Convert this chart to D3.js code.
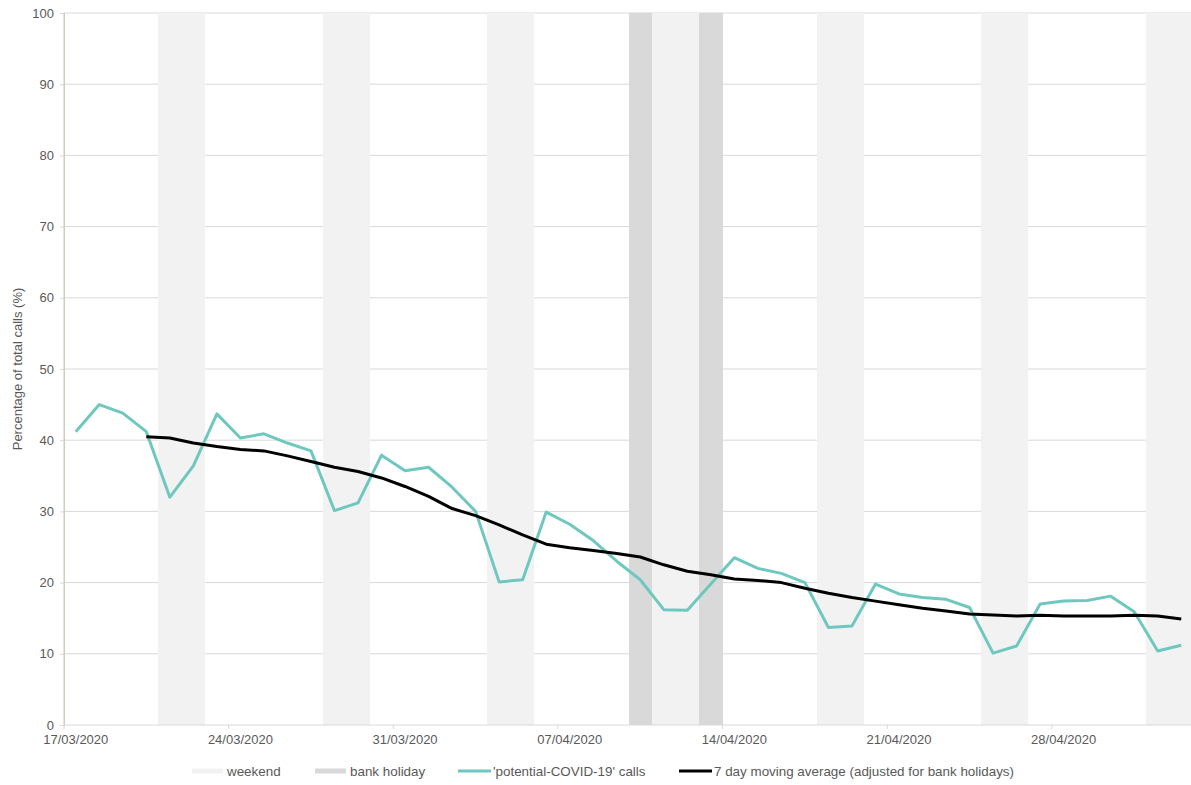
<!DOCTYPE html>
<html>
<head>
  <title>Potential COVID-19 calls</title>
  <style>
    body { margin: 0; background: #fff; }
    text { font-family: "Liberation Sans", Arial, sans-serif; fill: #595959; }
  </style>
</head>
<body>
  <svg id="chart"></svg>

  <script src="https://d3js.org/d3.v7.min.js"></script>
  <script>
    // days 17/03/2020 .. 03/05/2020
    var startDate = new Date(2020, 2, 17);
    var dayCount = 48;

    // 'potential-COVID-19' calls, % of total, one per day
    var covidCalls = [41.2, 45.0, 43.8, 41.2, 32.0, 36.4, 43.7, 40.3, 40.9, 39.6,
      38.5, 30.1, 31.2, 37.9, 35.7, 36.2, 33.4, 30.0, 20.1, 20.4,
      29.9, 28.2, 25.9, 23.0, 20.4, 16.2, 16.1, 19.8, 23.5, 22.0,
      21.3, 20.0, 13.7, 13.9, 19.8, 18.4, 17.9, 17.65, 16.5, 10.1,
      11.1, 17.0, 17.4, 17.5, 18.1, 15.9, 10.4, 11.2];

    // 7 day moving average, starts on day 3
    var maStart = 3;
    var movingAvg = [40.5, 40.3, 39.6, 39.1, 38.7, 38.5, 37.8, 37.0, 36.2, 35.6,
      34.7, 33.5, 32.1, 30.4, 29.4, 28.1, 26.7, 25.4, 24.9, 24.5,
      24.1, 23.6, 22.5, 21.6, 21.1, 20.5, 20.3, 20.0, 19.2, 18.5,
      17.9, 17.4, 16.9, 16.4, 16.0, 15.6, 15.45, 15.3, 15.4, 15.3,
      15.3, 15.3, 15.4, 15.3, 14.9];

    var weekendDays = [4, 5, 11, 12, 18, 19, 25, 26, 32, 33, 39, 40, 46, 47];
    var bankHolidays = [24, 27];
    var yTicks = [0, 10, 20, 30, 40, 50, 60, 70, 80, 90, 100];
    var xTickDays = [0, 7, 14, 21, 28, 35, 42];

    var width = 1191, height = 785;
    var margin = { top: 13, right: -2, bottom: 60, left: 64 };

    var svg = d3.select("#chart").attr("width", width).attr("height", height);

    var days = d3.range(dayCount);
    var x = d3.scaleBand().domain(days).range([margin.left, width - margin.right]);
    var y = d3.scaleLinear().domain([0, 100]).range([height - margin.bottom, margin.top]);

    function dateLabel(i) {
      var d = new Date(startDate);
      d.setDate(d.getDate() + i);
      return d3.timeFormat("%d/%m/%Y")(d);
    }

    // gridlines
    svg.append("g")
      .selectAll("line")
      .data(yTicks.slice(1))
      .enter().append("line")
      .attr("x1", margin.left).attr("x2", width)
      .attr("y1", function(d) { return y(d); })
      .attr("y2", function(d) { return y(d); })
      .attr("stroke", "#d9d9d9").attr("stroke-width", 1);

    // weekend and bank holiday shading
    svg.append("g")
      .attr("shape-rendering", "crispEdges")
      .selectAll("rect")
      .data(weekendDays)
      .enter().append("rect")
      .attr("x", function(d) { return Math.round(x(d)); })
      .attr("width", function(d) { return Math.round(x(d) + x.bandwidth()) - Math.round(x(d)); })
      .attr("y", y(100))
      .attr("height", y(0) - y(100))
      .attr("fill", "#f2f2f2");

    svg.append("g")
      .attr("shape-rendering", "crispEdges")
      .selectAll("rect")
      .data(bankHolidays)
      .enter().append("rect")
      .attr("x", function(d) { return Math.round(x(d)); })
      .attr("width", function(d) { return Math.round(x(d) + x.bandwidth()) - Math.round(x(d)); })
      .attr("y", y(100))
      .attr("height", y(0) - y(100))
      .attr("fill", "#d9d9d9");

    // y axis
    var yAxis = svg.append("g")
      .attr("transform", "translate(" + margin.left + ",0)")
      .call(d3.axisLeft(y).tickValues(yTicks).tickSize(4).tickPadding(6));
    yAxis.select(".domain").attr("stroke", "#d0cbbb");
    yAxis.selectAll(".tick line").attr("stroke", "#d9d9d9");
    yAxis.selectAll("text").style("font-size", "13px").attr("fill", "#595959");

    // x axis: ticks at day boundaries, labels at day centres
    var xAxis = svg.append("g")
      .attr("transform", "translate(0," + y(0) + ")")
      .call(d3.axisBottom(x).tickValues(xTickDays).tickFormat(dateLabel).tickSize(4).tickPadding(6));
    xAxis.selectAll(".tick").attr("transform", function(d) { return "translate(" + x(d) + ",0)"; });
    xAxis.selectAll(".tick text").attr("x", x.bandwidth() / 2);
    xAxis.select(".domain").attr("stroke", "#d9d9d9").attr("d", "M" + margin.left + ",0H" + width);
    xAxis.selectAll(".tick line").attr("stroke", "#d9d9d9");
    xAxis.selectAll("text").style("font-size", "13px").attr("fill", "#595959");

    // redraw left axis line on top
    svg.append("line")
      .attr("x1", margin.left).attr("x2", margin.left)
      .attr("y1", y(100)).attr("y2", y(0))
      .attr("stroke", "#d0cbbb");

    // y axis title
    svg.append("text")
      .attr("transform", "translate(22," + ((y(0) + y(100)) / 2) + ") rotate(-90)")
      .attr("text-anchor", "middle")
      .style("font-size", "13px")
      .text("Percentage of total calls (%)");

    var cx = function(i) { return x(i) + x.bandwidth() / 2; };

    var line = d3.line()
      .x(function(d) { return cx(d.i); })
      .y(function(d) { return y(d.v); });

    svg.append("path")
      .datum(covidCalls.map(function(v, i) { return { i: i, v: v }; }))
      .attr("fill", "none")
      .attr("stroke", "#6fc8bf")
      .attr("stroke-width", 3)
      .attr("stroke-linejoin", "round")
      .attr("d", line);

    svg.append("path")
      .datum(movingAvg.map(function(v, i) { return { i: i + maStart, v: v }; }))
      .attr("fill", "none")
      .attr("stroke", "#000")
      .attr("stroke-width", 3)
      .attr("stroke-linejoin", "round")
      .attr("d", line);

    // legend
    var legendItems = [
      { label: "weekend", type: "rect", color: "#f2f2f2", x: 192 },
      { label: "bank holiday", type: "rect", color: "#d9d9d9", x: 315 },
      { label: "'potential-COVID-19' calls", type: "line", color: "#6fc8bf", x: 458 },
      { label: "7 day moving average (adjusted for bank holidays)", type: "line", color: "#000", x: 679 }
    ];
    var legend = svg.append("g").attr("transform", "translate(0,771)");
    legendItems.forEach(function(item) {
      if (item.type === "rect") {
        legend.append("rect")
          .attr("x", item.x).attr("y", -2.5)
          .attr("width", 31).attr("height", 5)
          .attr("fill", item.color);
      } else {
        legend.append("line")
          .attr("x1", item.x).attr("x2", item.x + 33)
          .attr("y1", 0).attr("y2", 0)
          .attr("stroke", item.color).attr("stroke-width", 3);
      }
      legend.append("text")
        .attr("x", item.x + 35)
        .attr("y", 4.5)
        .style("font-size", "13.4px")
        .text(item.label);
    });
  </script>
</body>
</html>
